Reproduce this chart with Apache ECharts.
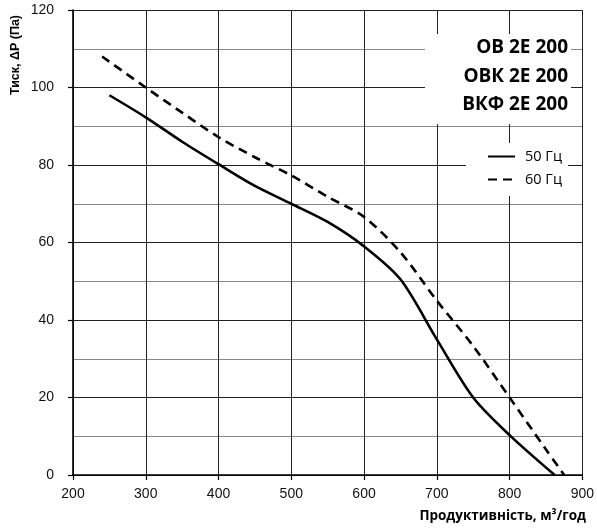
<!DOCTYPE html>
<html>
<head>
<meta charset="utf-8">
<script src="https://cdn.jsdelivr.net/npm/echarts@6/dist/echarts.min.js"></script>
<style>
html,body{margin:0;padding:0;background:#fff;}
#chart{width:597px;height:530px;}
</style>
</head>
<body>
<div id="chart"></div>
<script>
// Data
var seriesNames = ['50 Гц', '60 Гц'];
var flow50 = [250, 300, 350, 400, 450, 500, 550, 600, 650, 700, 750, 800, 862];
var press50 = [98, 92.3, 86, 80.2, 74.6, 70, 65.3, 59, 50.5, 35, 20, 10.3, 0];
var flow60 = [240, 300, 350, 400, 450, 500, 550, 600, 650, 700, 750, 800, 850, 875];
var press60 = [108, 100, 93.5, 87.2, 82, 77.3, 71.8, 66.6, 57.5, 45, 33.3, 20, 6.6, 0];
var titleLines = ['ОВ 2Е 200', 'ОВК 2Е 200', 'ВКФ 2Е 200'];
var xAxisName = 'Продуктивність, м³/год';
var yAxisName = 'Тиск, ΔP (Па)';
var xMin = 200, xMax = 900, xStep = 100;
var yMin = 0, yMax = 120, yStep = 20;

function pairs(xs, ys) { return xs.map(function (x, i) { return [x, ys[i]]; }); }

var chart = echarts.init(document.getElementById('chart'));
chart.setOption({
  animation: false,
  backgroundColor: '#fff',
  grid: { left: 73, right: 13, top: 10, bottom: 55, containLabel: false },
  xAxis: {
    type: 'value', min: xMin, max: xMax, interval: xStep,
    axisLine: { show: true, onZero: false, lineStyle: { color: '#000', width: 1.6 } },
    axisTick: { show: true, length: 5, lineStyle: { color: '#000', width: 1.2 } },
    axisLabel: { color: '#111', fontFamily: 'Liberation Sans, Arial', fontSize: 14, margin: 12 },
    splitLine: { show: true, lineStyle: { color: '#222', width: 1 } }
  },
  yAxis: {
    type: 'value', min: yMin, max: yMax, interval: yStep,
    axisLine: { show: true, onZero: false, lineStyle: { color: '#000', width: 1.6 } },
    axisTick: { show: true, length: 5, lineStyle: { color: '#000', width: 1.2 } },
    axisLabel: { color: '#111', fontFamily: 'Liberation Sans, Arial', fontSize: 14, margin: 19 },
    splitLine: { show: true, lineStyle: { color: '#222', width: 1 } },
    minorTick: { show: false, splitNumber: 2 },
    minorSplitLine: { show: true, lineStyle: { color: '#888', width: 1 } }
  },
  legend: {
    orient: 'vertical', left: 466, top: 143,
    backgroundColor: '#fff', padding: [6, 6, 9, 21],
    itemWidth: 27, itemHeight: 14, itemGap: 8,
    itemStyle: { opacity: 0 },
    textStyle: { fontFamily: 'Open Sans', fontSize: 14.5, color: '#000', padding: [0, 0, 0, 5] },
    data: seriesNames
  },
  series: [
    {
      name: seriesNames[0], type: 'line', data: pairs(flow50, press50),
      symbol: 'none', smooth: 0.3,
      lineStyle: { color: '#000', width: 2.6, type: 'solid' }, itemStyle: { color: '#000' }
    },
    {
      name: seriesNames[1], type: 'line', data: pairs(flow60, press60),
      symbol: 'none', smooth: 0.3,
      lineStyle: { color: '#000', width: 2.6, type: [9, 6] }, itemStyle: { color: '#000' }
    }
  ],
  graphic: [
    { type: 'rect', z: 100, shape: { x: 425, y: 34, width: 146, height: 90 }, style: { fill: '#fff' } },
    { type: 'text', z: 101, x: 568, y: 48, style: { text: titleLines[0], fill: '#000', font: 'bold 19px "Open Sans"', textAlign: 'right', textVerticalAlign: 'middle' } },
    { type: 'text', z: 101, x: 568, y: 77, style: { text: titleLines[1], fill: '#000', font: 'bold 19px "Open Sans"', textAlign: 'right', textVerticalAlign: 'middle' } },
    { type: 'text', z: 101, x: 568, y: 105, style: { text: titleLines[2], fill: '#000', font: 'bold 19px "Open Sans"', textAlign: 'right', textVerticalAlign: 'middle' } },
    { type: 'text', z: 101, x: 586, y: 516, style: { text: xAxisName, fill: '#000', font: 'bold 13.5px "Open Sans"', textAlign: 'right', textVerticalAlign: 'middle' } },
    { type: 'text', z: 101, x: 16, y: 55, rotation: Math.PI / 2, style: { text: yAxisName, fill: '#000', font: 'bold 12.5px "Liberation Sans", Arial', textAlign: 'center', textVerticalAlign: 'middle' } }
  ]
});
</script>
</body>
</html>
